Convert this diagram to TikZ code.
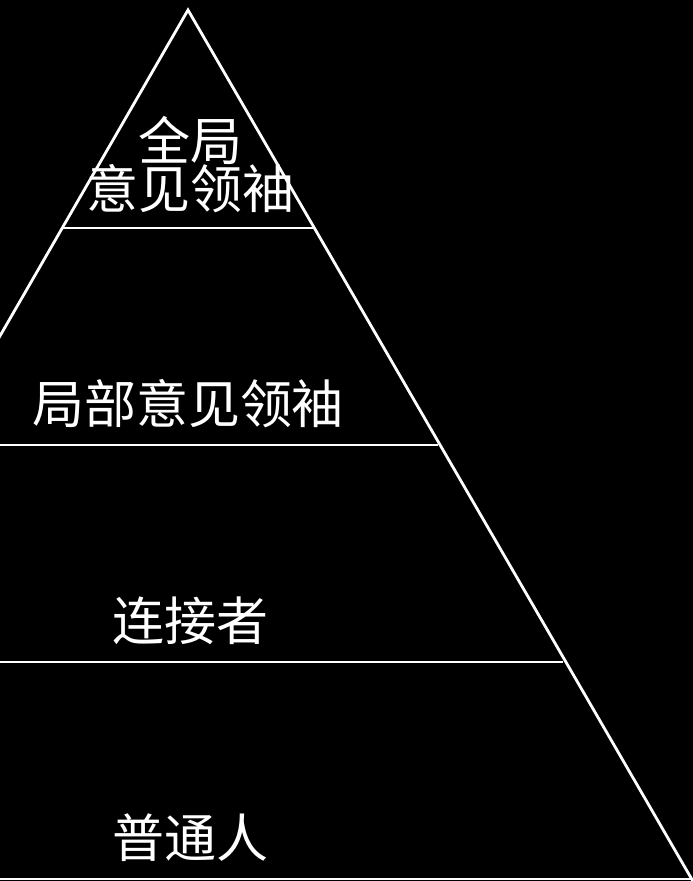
\documentclass[tikz,border=0pt]{standalone}
\usepackage{fontspec}
\newfontfamily\cjk{Noto Sans CJK SC}
\begin{document}
\begin{tikzpicture}[x=1pt,y=-1pt,
  edge/.style={draw=white,line width=2.8pt},
  label/.style={text=white,font=\cjk\fontsize{52}{56}\selectfont,inner sep=0pt,align=center}]
\fill[black] (0,0) rectangle (693,881);
\useasboundingbox (0,0) rectangle (693,881);
\begin{scope}
\clip (0,0) rectangle (693,881);
\coordinate (apex) at (188,10);
\coordinate (lfoot) at (-20,370.6);
\coordinate (rfoot) at (705,902);
\coordinate (l1) at (62,228);
\coordinate (r1) at (314,228);
\coordinate (l2) at (-5,445);
\coordinate (r2) at (438,445);
\coordinate (l3) at (-5,662);
\coordinate (r3) at (563,662);
\coordinate (l4) at (-5,879);
\coordinate (r4) at (700,879);
\draw[edge] (lfoot) -- (apex) -- (rfoot);
\draw[edge] (l1) -- (r1);
\draw[edge] (l2) -- (r2);
\draw[edge] (l3) -- (r3);
\draw[edge] (l4) -- (r4);
\end{scope}
\node[label] (top) at (190,165) {全局\\[-8pt]意见领袖};
\node[label] (local) at (188,404) {局部意见领袖};
\node[label] (conn) at (190,621) {连接者};
\node[label] (common) at (190,838) {普通人};
\end{tikzpicture}
\end{document}
